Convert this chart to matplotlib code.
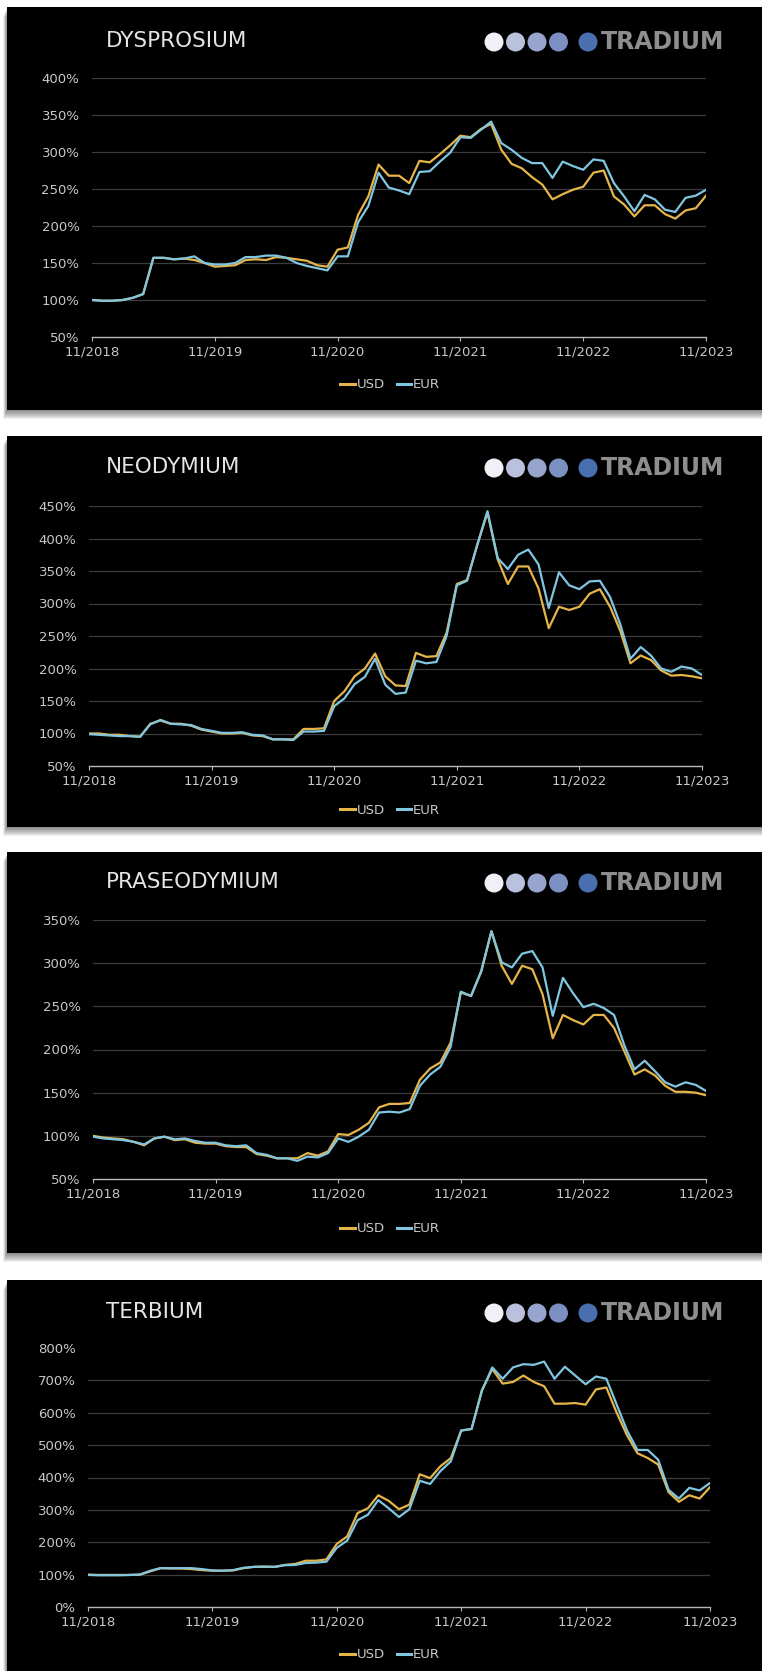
import matplotlib.pyplot as plt
from matplotlib.patches import Rectangle, Ellipse

plt.rcParams['font.family'] = ['DejaVu Sans']

W, H = 762, 1671

# month index 0 = 11/2018, 60 = 11/2023
x_ticks = [0, 12, 24, 36, 48, 60]
x_labels = ["11/2018", "11/2019", "11/2020", "11/2021", "11/2022", "11/2023"]

dy_usd = [100, 99, 99, 100, 103, 108, 157, 157, 155, 156, 154, 150, 145, 146, 147, 154,
          155, 154, 158, 157, 155, 153, 147, 145, 168, 171, 215, 240, 283, 268, 268, 258,
          288, 286, 297, 309, 322, 320, 331, 338, 303, 284, 278, 266, 256, 236, 243, 249,
          253, 272, 275, 240, 229, 213, 228, 228, 216, 210, 221, 224, 241]
dy_eur = [100, 99, 99, 100, 103, 108, 157, 157, 155, 156, 159, 150, 148, 148, 150, 158,
          158, 160, 160, 157, 150, 146, 143, 140, 159, 159, 205, 227, 272, 252, 248, 243,
          273, 274, 287, 299, 320, 319, 330, 341, 312, 303, 292, 285, 285, 265, 287, 281,
          276, 290, 288, 258, 240, 220, 242, 236, 222, 219, 238, 241, 249]

nd_usd = [100, 100, 98, 98, 96, 95, 115, 120, 115, 115, 112, 106, 103, 100, 100, 101,
          97, 96, 91, 91, 91, 107, 107, 108, 150, 165, 188, 200, 223, 188, 174, 173,
          224, 218, 219, 255, 330, 336, 390, 440, 368, 330, 357, 357, 323, 262, 295, 290,
          295, 315, 322, 295, 258, 208, 220, 213, 197, 189, 190, 188, 185]
nd_eur = [99, 98, 97, 96, 96, 95, 114, 121, 115, 114, 113, 107, 104, 101, 101, 102,
          98, 97, 91, 91, 90, 103, 103, 104, 142, 154, 176, 187, 215, 175, 161, 163,
          212, 208, 210, 250, 328, 335, 390, 442, 370, 353, 375, 383, 360, 293, 348, 328,
          322, 334, 335, 310, 268, 215, 233, 220, 200, 195, 203, 200, 190]

pr_usd = [100, 98, 97, 96, 93, 89, 97, 99, 95, 96, 92, 91, 91, 88, 87, 87,
          79, 77, 74, 74, 74, 80, 77, 82, 102, 101, 107, 115, 133, 137, 137, 138,
          165, 178, 185, 208, 266, 262, 290, 337, 297, 276, 297, 293, 264, 213, 240, 234,
          229, 240, 240, 225, 198, 171, 177, 170, 158, 151, 151, 150, 147]
pr_eur = [99, 97, 96, 95, 93, 90, 97, 99, 96, 97, 94, 92, 92, 89, 88, 89,
          80, 78, 74, 74, 71, 76, 75, 80, 97, 93, 99, 107, 127, 128, 127, 131,
          158, 171, 180, 203, 267, 262, 291, 337, 301, 295, 311, 314, 295, 239, 283, 265,
          249, 253, 248, 240, 205, 177, 187, 175, 162, 157, 162, 159, 152]

tb_usd = [100, 99, 99, 99, 99, 100, 110, 120, 119, 119, 117, 114, 112, 112, 113, 120,
          124, 124, 124, 130, 133, 143, 143, 147, 195, 218, 290, 305, 345, 328, 302, 316,
          410, 398, 435, 460, 545, 550, 670, 735, 690, 695, 715, 695, 682, 628, 628, 630,
          625, 672, 678, 600, 530, 475, 460, 440, 355, 325, 345, 335, 370]
tb_eur = [99, 98, 98, 98, 99, 100, 112, 120, 120, 120, 120, 117, 113, 112, 114, 121,
          124, 125, 124, 129, 130, 136, 137, 140, 183, 205, 268, 285, 330, 305, 278, 302,
          390, 380, 420, 450, 545, 550, 668, 740, 705, 740, 750, 748, 758, 705, 742, 715,
          688, 712, 705, 625, 545, 485, 485, 455, 362, 335, 368, 360, 383]

names = ["DYSPROSIUM", "NEODYMIUM", "PRASEODYMIUM", "TERBIUM"]
usd = [dy_usd, nd_usd, pr_usd, tb_usd]
eur = [dy_eur, nd_eur, pr_eur, tb_eur]
y_ticks = [range(50, 401, 50), range(50, 451, 50), range(50, 351, 50), range(0, 801, 100)]

# pixel layout of each card: (card top, card bottom, axes left, axes right, axes top, axes bottom, title y, legend y)
layout = [
    (7, 410, 92, 706, 78, 337, 41, 385),
    (436, 827, 89, 702, 506, 766, 467, 810),
    (852, 1253, 93, 706, 920, 1179, 882, 1229),
    (1280, 1671, 88, 710, 1348, 1607, 1312, 1655),
]

USD_C = "#e6b54a"
EUR_C = "#80c6e0"
TXT_C = "#c8c8c8"
GRID_C = "#3c3c3c"
logo_colors = ["#f0f0f6", "#b9c1dd", "#97a4cd", "#7b8fc3"]


def fx(px):
    return px / W


def fy(py):
    return 1 - py / H


fig = plt.figure(figsize=(W / 100, H / 100), dpi=100, facecolor="white")

for k, name in enumerate(names):
    top, bot, left, right, atop, abot, ty, ly = layout[k]

    # soft drop shadow under the card
    for s in range(1, 10):
        fig.add_artist(Rectangle((fx(7 - s * 0.4), fy(bot + s)), fx(W), (bot - top) / H,
                                 transform=fig.transFigure, facecolor="black",
                                 alpha=0.06, edgecolor="none", zorder=0))
    fig.add_artist(Rectangle((fx(7), fy(bot)), fx(W - 7), (bot - top) / H,
                             transform=fig.transFigure, facecolor="black",
                             edgecolor="none", zorder=1))

    # title and logo
    fig.text(fx(106), fy(ty), name, color="#e4e4e4", fontsize=15.5, va="center",
             ha="left", zorder=3)
    for j, c in enumerate(logo_colors):
        fig.add_artist(Ellipse((fx(494 + 21.5 * j), fy(ty + 1)), 19 / W, 19 / H,
                               transform=fig.transFigure, facecolor=c,
                               edgecolor="none", zorder=3))
    fig.add_artist(Ellipse((fx(588), fy(ty + 1)), 19 / W, 19 / H,
                           transform=fig.transFigure, facecolor="#4a6fae",
                           edgecolor="none", zorder=3))
    fig.text(fx(601), fy(ty + 1), "TRADIUM", color="#8e8e8e", fontsize=17,
             fontweight="bold", va="center", ha="left", zorder=3)

    ax = fig.add_axes([fx(left), fy(abot), (right - left) / W, (abot - atop) / H])
    ax.set_facecolor("none")
    ax.set_zorder(4)

    x = list(range(len(usd[k])))
    ax.plot(x, usd[k], color=USD_C, lw=1.6, label="USD", solid_joinstyle="round")
    ax.plot(x, eur[k], color=EUR_C, lw=1.6, label="EUR", solid_joinstyle="round")

    yt = list(y_ticks[k])
    ax.set_ylim(yt[0], yt[-1])
    ax.set_xlim(0, 60)
    ax.set_yticks(yt)
    ax.set_yticklabels([f"{v}%" for v in yt])
    ax.set_xticks(x_ticks)
    ax.set_xticklabels(x_labels)

    grid_vals = yt[1:] if k < 3 else yt[1:-1]
    for v in grid_vals:
        ax.axhline(v, color=GRID_C, lw=0.9, zorder=0)

    for side in ["top", "right", "left"]:
        ax.spines[side].set_visible(False)
    ax.spines["bottom"].set_color("#b8b8b8")
    ax.spines["bottom"].set_linewidth(1.0)
    ax.tick_params(axis="y", length=0, pad=9, labelcolor=TXT_C, labelsize=9.5)
    ax.tick_params(axis="x", length=3, color="#b8b8b8", pad=3, labelcolor=TXT_C,
                   labelsize=9.5)

    leg = ax.legend(loc="center", bbox_to_anchor=(fx(390), fy(ly)),
                    bbox_transform=fig.transFigure, ncol=2, frameon=False,
                    fontsize=9.5, handlelength=1.1, handletextpad=0.15,
                    columnspacing=0.9, labelcolor=TXT_C)
    for h in leg.legend_handles:
        h.set_linewidth(2.2)

fig.savefig("out.png", dpi=100, facecolor="white")
